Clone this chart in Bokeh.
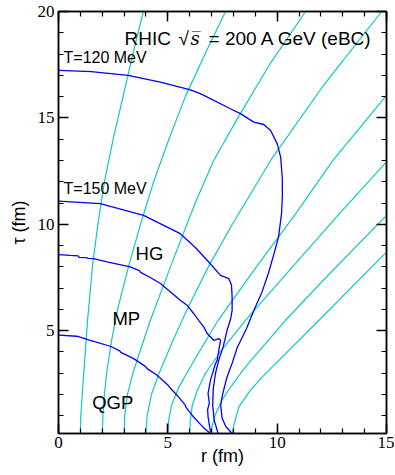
from bokeh.plotting import figure
from bokeh.models import LinearAxis, SingleIntervalTicker, Range1d, Label
from bokeh.embed import file_html
from bokeh.resources import INLINE

# ---- flow lines of fluid cells (r in fm vs tau in fm) ----
flow1_r = [1.00, 1.02, 1.10, 1.33, 1.55, 1.80, 2.10, 2.50, 2.95, 3.40, 3.88]
flow1_tau = [0.17, 1.0, 2.2, 5.5, 8.0, 10.0, 12.0, 14.0, 16.0, 18.0, 20.0]
flow2_r = [2.00, 2.05, 2.20, 2.42, 2.70, 3.20, 3.75, 4.35, 5.05, 5.80, 6.70, 7.64]
flow2_tau = [0.17, 1.5, 3.0, 4.5, 6.0, 8.0, 10.0, 12.0, 14.0, 16.0, 18.0, 20.0]
flow3_r = [3.00, 3.03, 3.15, 3.40, 3.72, 4.20, 5.12, 6.25, 7.10, 8.20, 9.65, 11.30]
flow3_tau = [0.17, 1.0, 2.0, 3.0, 4.0, 5.49, 8.0, 11.0, 13.0, 15.0, 17.5, 20.0]
flow4_r = [4.00, 4.05, 4.25, 4.60, 5.22, 5.88, 6.85, 7.95, 9.70, 12.10, 14.78]
flow4_tau = [0.17, 1.0, 2.0, 3.0, 4.5, 6.0, 8.0, 10.0, 13.0, 16.5, 20.0]
flow5_r = [5.00, 5.04, 5.17, 5.48, 6.20, 7.30, 9.05, 10.85, 12.55, 15.0]
flow5_tau = [0.17, 0.8, 1.5, 2.3, 3.6, 5.49, 8.0, 10.5, 13.0, 16.06]
flow6_r = [6.00, 6.03, 6.12, 6.35, 6.72, 7.40, 8.55, 10.70, 12.85, 15.0]
flow6_tau = [0.17, 0.8, 1.5, 2.2, 3.0, 4.0, 5.49, 8.0, 10.5, 12.93]
flow7_r = [7.00, 7.02, 7.15, 7.45, 7.90, 8.55, 10.38, 12.23, 15.0]
flow7_tau = [0.17, 0.5, 1.0, 1.7, 2.4, 3.3, 5.49, 7.5, 10.42]
flow8_r = [7.94, 8.02, 8.25, 8.78, 9.32, 11.91, 15.0]
flow8_tau = [0.17, 0.56, 1.42, 2.21, 2.83, 5.49, 8.69]

# ---- isotherms / phase boundaries ----
t120_r = [0.00, 1.50, 3.18, 4.66, 6.03, 6.49, 7.86, 8.32, 8.93, 9.39, 9.70, 10.00, 10.16,
          10.23, 10.24, 10.20, 10.06, 9.85, 9.60, 9.30, 8.95, 8.60, 8.17, 7.95, 7.70, 7.50,
          7.42, 7.48, 7.65, 7.94]
t120_tau = [17.23, 17.17, 17.00, 16.68, 16.32, 16.14, 15.43, 15.20, 14.80, 14.69, 14.41, 13.79,
            13.16, 12.22, 11.40, 10.50, 9.40, 8.60, 7.70, 6.80, 6.00, 5.10, 4.20, 3.50, 2.80,
            2.00, 1.50, 0.90, 0.50, 0.17]
t150_r = [0.00, 1.91, 3.89, 5.57, 6.26, 6.87, 7.41, 7.79, 7.91, 7.94, 7.94, 7.87, 7.71, 7.53,
          7.33, 7.18, 7.08, 7.05, 7.12, 7.30]
t150_tau = [11.09, 10.97, 10.42, 9.56, 8.91, 8.23, 7.60, 7.45, 7.15, 6.59, 5.96, 5.55, 5.02,
            4.24, 3.62, 3.00, 2.30, 1.50, 0.80, 0.17]
hg_r = [0.00, 0.54, 0.90, 0.95, 1.30, 1.35, 1.60, 2.22, 3.28, 3.70, 3.75, 4.20, 4.66, 5.57,
        5.88, 6.18, 6.41, 6.64, 6.80, 7.10, 7.33, 7.41, 7.33, 7.26, 7.18, 6.95, 6.84, 6.90,
        6.82, 6.84, 6.95]
hg_tau = [8.58, 8.54, 8.52, 8.45, 8.43, 8.40, 8.39, 8.23, 8.00, 7.82, 7.74, 7.50, 7.22, 6.43,
          6.20, 5.81, 5.49, 5.18, 4.87, 4.55, 4.63, 4.55, 4.08, 3.62, 3.46, 2.68, 2.05, 1.60,
          1.30, 0.95, 0.25]
qgp_r = [0.00, 0.84, 1.45, 2.37, 2.80, 2.85, 3.44, 4.00, 4.05, 4.51, 5.00, 5.05, 5.42, 5.80,
         5.83, 6.11, 6.49, 6.70, 6.95]
qgp_tau = [4.79, 4.74, 4.55, 4.27, 4.05, 3.98, 3.69, 3.30, 3.22, 2.91, 2.45, 2.38, 1.97, 1.50,
           1.40, 1.03, 0.60, 0.38, 0.17]

CYAN = "#10c8c8"
BLUE = "#0000ff"

p = figure(width=394, height=474,
           x_range=Range1d(0, 15), y_range=Range1d(0.17, 20),
           output_backend="svg", toolbar_location=None,
           min_border_left=58, min_border_right=8, min_border_top=11, min_border_bottom=41,
           x_axis_label="r (fm)", y_axis_label="τ (fm)")
p.xgrid.visible = False
p.ygrid.visible = False
p.outline_line_color = "black"
p.outline_line_width = 1.5
p.background_fill_color = "white"
p.border_fill_color = "white"

flows = [(flow1_r, flow1_tau), (flow2_r, flow2_tau), (flow3_r, flow3_tau), (flow4_r, flow4_tau),
         (flow5_r, flow5_tau), (flow6_r, flow6_tau), (flow7_r, flow7_tau), (flow8_r, flow8_tau)]
for fr, ft in flows:
    p.line(fr, ft, line_color=CYAN, line_width=1.2)

for br, bt in [(t120_r, t120_tau), (t150_r, t150_tau), (hg_r, hg_tau), (qgp_r, qgp_tau)]:
    p.line(br, bt, line_color=BLUE, line_width=1.3)


def style_axis(ax, labels=True):
    ax.ticker = SingleIntervalTicker(interval=5, num_minor_ticks=5)
    ax.major_tick_in = 10
    ax.major_tick_out = 0
    ax.minor_tick_in = 5
    ax.minor_tick_out = 0
    ax.axis_line_width = 1.5
    ax.major_tick_line_width = 1.5
    ax.minor_tick_line_width = 1.2
    ax.axis_line_color = "black"
    if labels:
        ax.major_label_text_font = "Liberation Serif"
        ax.major_label_text_font_size = "17px"
        ax.major_label_text_color = "black"
        ax.major_label_standoff = 4
        ax.axis_label_text_font = "Liberation Sans"
        ax.axis_label_text_font_size = "18px"
        ax.axis_label_text_font_style = "normal"
        ax.axis_label_text_color = "black"
    else:
        ax.major_label_text_font_size = "0px"
        ax.major_label_text_color = None
        ax.major_label_standoff = 0
        ax.axis_label = None


style_axis(p.xaxis[0])
style_axis(p.yaxis[0])
p.xaxis[0].major_label_standoff = 3
p.xaxis[0].axis_label_standoff = -5
p.yaxis[0].axis_label_standoff = 6
top = LinearAxis()
right = LinearAxis()
style_axis(top, labels=False)
style_axis(right, labels=False)
p.add_layout(top, "above")
p.add_layout(right, "right")

lab = dict(text_font="Liberation Sans", text_color="black")
p.add_layout(Label(x=3.02, y=18.25, text="RHIC", text_font_size="19px", **lab))
p.add_layout(Label(x=3.02, y=18.25, x_offset=54, text="√", text_font_size="19px", **lab))
p.add_layout(Label(x=3.02, y=18.25, x_offset=66, text="s\u0305", text_font="DejaVu Serif",
                   text_font_style="italic", text_font_size="18px", text_color="black"))
p.add_layout(Label(x=3.02, y=18.25, x_offset=84, text="= 200 A GeV (eBC)", text_font_size="19px", **lab))
p.add_layout(Label(x=0.23, y=17.46, text="T=120 MeV", text_font_size="16px", **lab))
p.add_layout(Label(x=0.23, y=11.28, text="T=150 MeV", text_font_size="16px", **lab))
p.add_layout(Label(x=4.16, y=8.62, text="HG", text_font_size="18.5px", text_align="center",
                   text_baseline="middle", **lab))
p.add_layout(Label(x=3.10, y=5.58, text="MP", text_font_size="18.5px", text_align="center",
                   text_baseline="middle", **lab))
p.add_layout(Label(x=2.48, y=1.64, text="QGP", text_font_size="18.5px", text_align="center",
                   text_baseline="middle", **lab))

open("out.html", "w").write(file_html(p, INLINE))
